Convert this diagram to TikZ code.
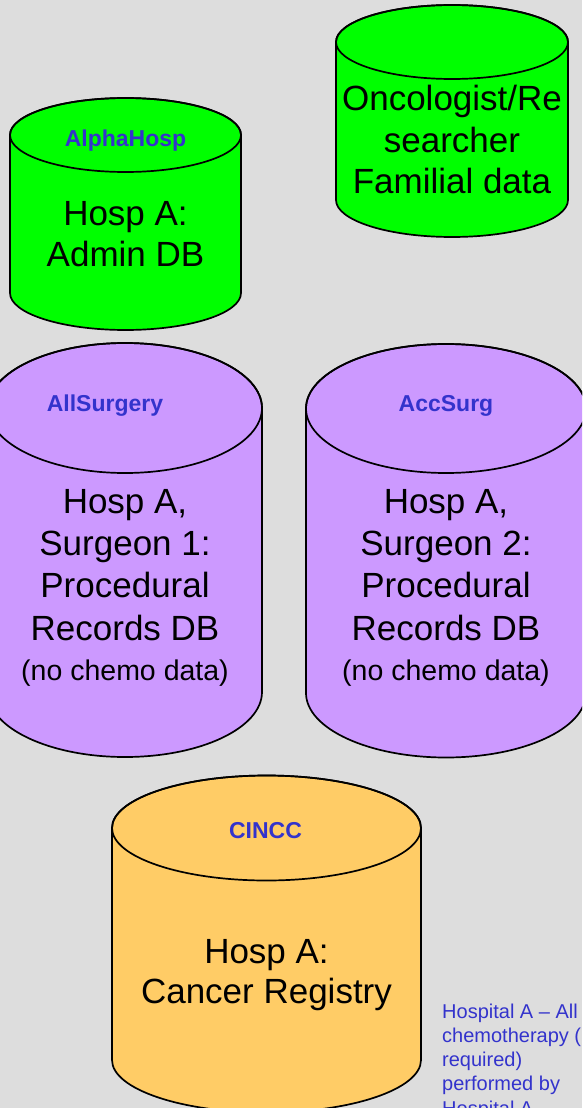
\documentclass[tikz,border=0pt]{standalone}
\usepackage{fontspec}
\setmainfont{Liberation Sans}
\definecolor{bggray}{HTML}{DDDDDD}
\definecolor{dbgreen}{HTML}{00FF00}
\definecolor{dbpurple}{HTML}{CC99FF}
\definecolor{dborange}{HTML}{FFCC66}
\definecolor{lblblue}{HTML}{3333CC}
% database cylinder: centre x, top-ellipse y, bottom-ellipse y, x radius, y radius, fill
\newcommand\dbcylinder[6]{%
  \filldraw[cylline, fill=#6]
    ({#1-#4},{-(#2)}) -- ({#1-#4},{-(#3)})
    arc[start angle=180, end angle=360, x radius=#4, y radius=#5]
    -- ({#1+#4},{-(#2)})
    arc[start angle=0, end angle=180, x radius=#4, y radius=#5] -- cycle;
  \draw[cylline] (#1,{-(#2)}) ellipse [x radius=#4, y radius=#5];
}
\begin{document}
\begin{tikzpicture}[x=1pt, y=1pt,
  cylline/.style={draw=black, line width=1.7pt},
  dblabel/.style={anchor=base, inner sep=0pt, text=lblblue, font=\fontsize{23}{27}\selectfont\bfseries},
  dbtext/.style={anchor=base, inner sep=0pt, font=\fontsize{35}{42}\selectfont},
  dbnote/.style={anchor=base, inner sep=0pt, font=\fontsize{28.5}{34}\selectfont},
  sidetext/.style={anchor=base west, inner sep=0pt, text=lblblue, font=\fontsize{20}{24}\selectfont}]
\useasboundingbox (0,0) rectangle (582,-1108);
\clip (0,0) rectangle (582,-1108);
\fill[bggray] (0,0) rectangle (582,-1108);

% Hosp A admin database
\dbcylinder{125.5}{135}{293}{115.5}{37}{dbgreen}
\node[dblabel] (alpha) at (125.5,-146) {AlphaHosp};
\node[dbtext] (admin1) at (125.5,-225) {Hosp A:};
\node[dbtext] (admin2) at (125.5,-266) {Admin DB};

% familial data
\dbcylinder{452}{42}{200}{116}{37}{dbgreen}
\node[dbtext] (onc1) at (452,-110) {Oncologist/Re};
\node[dbtext] (onc2) at (452,-152) {searcher};
\node[dbtext] (onc3) at (452,-193) {Familial data};

% surgeon 1 records
\dbcylinder{125}{408}{692}{137}{65}{dbpurple}
\node[dblabel] (allsurg) at (105,-411) {AllSurgery};
\node[dbtext] (sa1) at (125,-513) {Hosp A,};
\node[dbtext] (sa2) at (125,-555) {Surgeon 1:};
\node[dbtext] (sa3) at (125,-597) {Procedural};
\node[dbtext] (sa4) at (125,-640) {Records DB};
\node[dbnote] (sa5) at (125,-680) {(no chemo data)};

% surgeon 2 records
\dbcylinder{446}{408.5}{693}{140}{64.5}{dbpurple}
\node[dblabel] (accsurg) at (446,-411) {AccSurg};
\node[dbtext] (sb1) at (446,-513) {Hosp A,};
\node[dbtext] (sb2) at (446,-555) {Surgeon 2:};
\node[dbtext] (sb3) at (446,-597) {Procedural};
\node[dbtext] (sb4) at (446,-640) {Records DB};
\node[dbnote] (sb5) at (446,-680) {(no chemo data)};

% cancer registry
\dbcylinder{266.5}{828}{1060}{154.5}{52.5}{dborange}
\node[dblabel] (cincc) at (265.5,-838) {CINCC};
\node[dbtext] (cr1) at (266.5,-963) {Hosp A:};
\node[dbtext] (cr2) at (266.5,-1003) {Cancer Registry};

% side note
\node[sidetext] (n1) at (442,-1018) {Hospital A – All};
\node[sidetext] (n2) at (442,-1042.3) {chemotherapy (};
\node[sidetext] (n3) at (442,-1066.6) {required)};
\node[sidetext] (n4) at (442,-1090.9) {performed by};
\node[sidetext] (n5) at (442,-1115.2) {Hospital A};
\end{tikzpicture}
\end{document}
